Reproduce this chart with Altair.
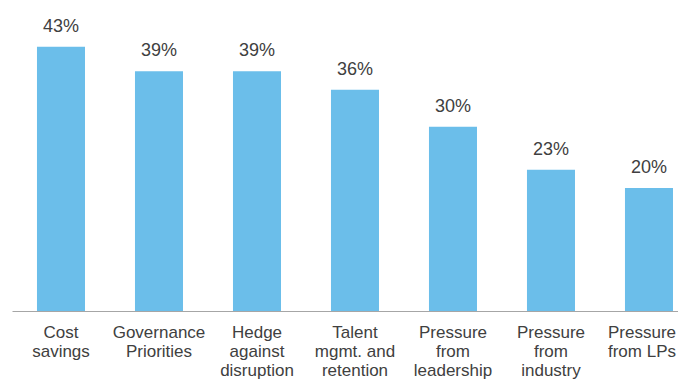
import altair as alt
import pandas as pd

categories = [
    "Cost savings",
    "Governance Priorities",
    "Hedge against disruption",
    "Talent mgmt. and retention",
    "Pressure from leadership",
    "Pressure from industry",
    "Pressure from LPs",
]
label_lines = [
    ["Cost", "savings"],
    ["Governance", "Priorities"],
    ["Hedge", "against", "disruption"],
    ["Talent", "mgmt. and", "retention"],
    ["Pressure", "from", "leadership"],
    ["Pressure", "from", "industry"],
    ["Pressure", "from LPs"],
]
values = [43, 39, 39, 36, 30, 23, 20]

df = pd.DataFrame({
    "category": categories,
    "value": values,
    "label": [f"{v}%" for v in values],
})

label_map = {c: "|".join(l) for c, l in zip(categories, label_lines)}
label_expr = "split(" + "{" + ",".join(f"'{k}': '{v}'" for k, v in label_map.items()) + "}[datum.label], '|')"

x = alt.X(
    "category:N",
    sort=None,
    title=None,
    scale=alt.Scale(paddingInner=0.51, paddingOuter=0.153, align=0.833),
    axis=alt.Axis(
        labelAngle=0,
        ticks=False,
        tickSize=0,
        labelPadding=13,
        labelFont="Liberation Sans",
        labelFontSize=17,
        labelColor="#404040",
        labelLineHeight=19,
        labelBaseline="top",
        labelExpr=label_expr,
        labelOffset={"condition": {"test": f"datum.value === '{categories[-1]}'", "value": -7}, "value": 0},
        domainColor="#a6a6a6",
        domainWidth=1,
        labelOverlap=False,
        labelLimit=200,
    ),
)
y = alt.Y(
    "value:Q",
    scale=alt.Scale(domain=[0, 48], nice=False),
    axis=None,
)

bars = alt.Chart(df).mark_bar(color="#6BBEEA").encode(x=x, y=y)
text = alt.Chart(df).mark_text(
    baseline="alphabetic",
    dy=-15,
    font="Liberation Sans",
    fontSize=18,
    color="#404040",
).encode(x=x, y=y, text="label:N")

chart = (
    alt.layer(bars, text)
    .properties(
        width=666,
        height=295,
        autosize=alt.AutoSizeParams(type="none"),
        padding={"left": 4, "top": 8, "right": 0, "bottom": 68},
    )
    .configure_view(stroke=None)
    .configure_axis(grid=False)
)

chart.save("out.html", embed_options={"renderer": "svg", "actions": False})
